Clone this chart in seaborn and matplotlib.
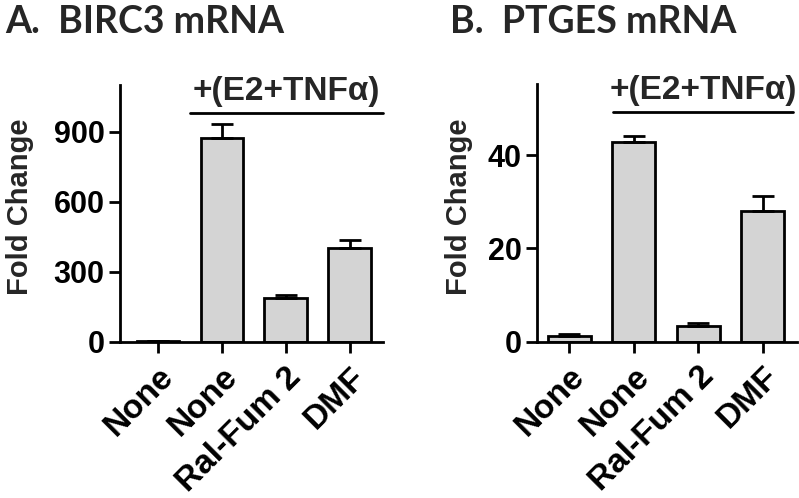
import matplotlib
matplotlib.use("Agg")
import matplotlib.pyplot as plt
import matplotlib.transforms as mtransforms
import seaborn as sns
import pandas as pd
import numpy as np

categories = ["None", "None", "Ral-Fum 2", "DMF"]
birc3_values = [3, 875, 187, 401]
birc3_errors = [0, 59, 16, 36]
ptges_values = [1.2, 42.9, 3.4, 28.1]
ptges_errors = [0.4, 1.1, 0.5, 3.2]
birc3_ticks = [0, 300, 600, 900]
ptges_ticks = [0, 20, 40]
bracket_label = "+(E2+TNFα)"

sns.set_theme(style="ticks")
plt.rcParams["font.family"] = ["Liberation Sans", "DejaVu Sans"]
plt.rcParams["font.weight"] = "bold"

fig = plt.figure(figsize=(7.99, 4.98), dpi=100)
axA = fig.add_axes([0.1502, 0.3133, 0.3292, 0.5157])
axB = fig.add_axes([0.6721, 0.3140, 0.3254, 0.5170])

FAM = ["Liberation Sans", "DejaVu Sans"]

def draw(ax, values, errors, ticks, ylim, xlim, bracket_x, bracket_y, text_gap, lab_x, lab_y):
    df = pd.DataFrame({"pos": [str(i) for i in range(len(values))], "val": values})
    sns.barplot(data=df, x="pos", y="val", ax=ax, color="#d4d4d4",
                edgecolor="black", linewidth=2, width=0.67, saturation=1,
                errorbar=None)
    x = np.arange(len(values))
    ax.errorbar(x, values, yerr=[np.zeros(len(errors)), errors], fmt="none",
                ecolor="black", elinewidth=2, capsize=8, capthick=2, zorder=1)
    ax.set_ylim(*ylim)
    ax.set_xlim(*xlim)
    ax.set_yticks(ticks)
    ax.set_yticklabels([str(t) for t in ticks])
    ax.set_xticks(x)
    ax.set_xticklabels(categories, rotation=45, ha="right", rotation_mode="anchor")
    shift = mtransforms.ScaledTranslation(-4 / 72, 0, fig.dpi_scale_trans)
    for lab in ax.get_yticklabels():
        lab.set_fontsize(22)
        lab.set_fontweight("bold")
        lab.set_family(FAM)
    for lab in ax.get_xticklabels():
        lab.set_fontsize(24)
        lab.set_fontweight("bold")
        lab.set_family(FAM)
        lab.set_transform(lab.get_transform() + shift)
    ax.set_xlabel("")
    ax.set_ylabel("Fold Change", fontsize=21, fontweight="bold", family=FAM)
    ax.yaxis.set_label_coords(lab_x, lab_y)
    for s in ["top", "right"]:
        ax.spines[s].set_visible(False)
    for s in ["left", "bottom"]:
        ax.spines[s].set_linewidth(2)
        ax.spines[s].set_color("black")
    ax.tick_params(axis="x", length=8, width=2, pad=6, colors="black")
    ax.tick_params(axis="y", length=8, width=2, pad=3, colors="black")
    ax.plot(bracket_x, [bracket_y, bracket_y], color="black", lw=2, clip_on=False)
    ax.text(np.mean(bracket_x), bracket_y + text_gap, bracket_label,
            ha="center", va="bottom", fontsize=24, fontweight="bold",
            family=FAM, clip_on=False)

draw(axA, birc3_values, birc3_errors, birc3_ticks, (0, 1100), (-0.594, 3.52),
     [0.5, 3.52], 981, 25, -0.328, 0.527)
draw(axB, ptges_values, ptges_errors, ptges_ticks, (0, 55.2), (-0.5, 3.53),
     [0.68, 3.47], 49.3, 1.2, -0.246, 0.525)

fig.text(0.006, 0.955, "A.  BIRC3 mRNA", fontsize=27, fontweight="bold",
         family=["Lato", "DejaVu Sans"], va="center", ha="left")
fig.text(0.563, 0.955, "B.  PTGES mRNA", fontsize=27, fontweight="bold",
         family=["Lato", "DejaVu Sans"], va="center", ha="left")

fig.savefig("out.png", dpi=100)
